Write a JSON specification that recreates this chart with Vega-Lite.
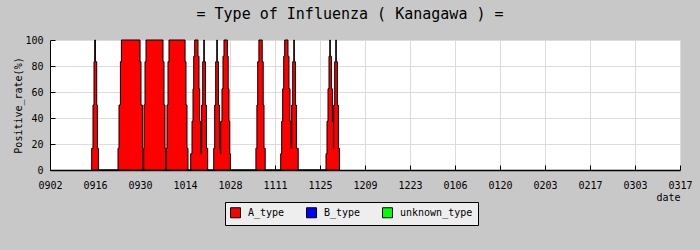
{
  "$schema": "https://vega.github.io/schema/vega-lite/v6.json",
  "width": 630,
  "height": 130,
  "autosize": "none",
  "padding": {"left": 50, "top": 40, "right": 20, "bottom": 80},
  "background": "#c8c8c8",
  "title": {"text": "= Type of Influenza ( Kanagawa ) =", "font": "DejaVu Sans Mono", "fontSize": 15, "fontWeight": "normal", "color": "black", "anchor": "middle", "dx": -15, "offset": 13},
  "config": {"view": {"fill": "white", "stroke": null}},
  "data": {"values": [
    {"day": 12.97, "rate": 16.7, "type": "A_type"},
    {"day": 13.38, "rate": 50, "type": "A_type"},
    {"day": 13.69, "rate": 83.3, "type": "A_type"},
    {"day": 13.91, "rate": 100, "type": "A_type"},
    {"day": 14.12, "rate": 83.3, "type": "A_type"},
    {"day": 14.53, "rate": 50, "type": "A_type"},
    {"day": 14.75, "rate": 16.7, "type": "A_type"},
    {"day": 15.06, "rate": 0, "type": "A_type"},
    {"day": 21.16, "rate": 16.7, "type": "A_type"},
    {"day": 21.47, "rate": 50, "type": "A_type"},
    {"day": 21.90, "rate": 83.3, "type": "A_type"},
    {"day": 22.21, "rate": 100, "type": "A_type"},
    {"day": 28.00, "rate": 83.3, "type": "A_type"},
    {"day": 28.31, "rate": 50, "type": "A_type"},
    {"day": 28.75, "rate": 16.7, "type": "A_type"},
    {"day": 28.93, "rate": 0, "type": "A_type"},
    {"day": 29.15, "rate": 16.7, "type": "A_type"},
    {"day": 29.24, "rate": 50, "type": "A_type"},
    {"day": 29.56, "rate": 83.3, "type": "A_type"},
    {"day": 29.87, "rate": 100, "type": "A_type"},
    {"day": 35.16, "rate": 83.3, "type": "A_type"},
    {"day": 35.47, "rate": 50, "type": "A_type"},
    {"day": 35.78, "rate": 16.7, "type": "A_type"},
    {"day": 36.00, "rate": 0, "type": "A_type"},
    {"day": 36.18, "rate": 16.7, "type": "A_type"},
    {"day": 36.40, "rate": 50, "type": "A_type"},
    {"day": 36.71, "rate": 83.3, "type": "A_type"},
    {"day": 37.02, "rate": 100, "type": "A_type"},
    {"day": 42.00, "rate": 83.3, "type": "A_type"},
    {"day": 42.31, "rate": 50, "type": "A_type"},
    {"day": 42.62, "rate": 16.7, "type": "A_type"},
    {"day": 42.93, "rate": 0, "type": "A_type"},
    {"day": 43.77, "rate": 12.5, "type": "A_type"},
    {"day": 44.18, "rate": 37.5, "type": "A_type"},
    {"day": 44.49, "rate": 62.5, "type": "A_type"},
    {"day": 44.71, "rate": 87.5, "type": "A_type"},
    {"day": 45.02, "rate": 100, "type": "A_type"},
    {"day": 46.04, "rate": 87.5, "type": "A_type"},
    {"day": 46.36, "rate": 62.5, "type": "A_type"},
    {"day": 46.57, "rate": 37.5, "type": "A_type"},
    {"day": 46.88, "rate": 12.5, "type": "A_type"},
    {"day": 46.98, "rate": 16.7, "type": "A_type"},
    {"day": 47.19, "rate": 50, "type": "A_type"},
    {"day": 47.51, "rate": 83.3, "type": "A_type"},
    {"day": 47.85, "rate": 100, "type": "A_type"},
    {"day": 48.00, "rate": 83.3, "type": "A_type"},
    {"day": 48.35, "rate": 50, "type": "A_type"},
    {"day": 48.66, "rate": 16.7, "type": "A_type"},
    {"day": 49.06, "rate": 0, "type": "A_type"},
    {"day": 50.93, "rate": 16.7, "type": "A_type"},
    {"day": 51.24, "rate": 50, "type": "A_type"},
    {"day": 51.55, "rate": 83.3, "type": "A_type"},
    {"day": 51.89, "rate": 100, "type": "A_type"},
    {"day": 52.05, "rate": 83.3, "type": "A_type"},
    {"day": 52.39, "rate": 50, "type": "A_type"},
    {"day": 52.71, "rate": 16.7, "type": "A_type"},
    {"day": 53.01, "rate": 12.5, "type": "A_type"},
    {"day": 53.11, "rate": 37.5, "type": "A_type"},
    {"day": 53.51, "rate": 62.5, "type": "A_type"},
    {"day": 53.82, "rate": 87.5, "type": "A_type"},
    {"day": 54.13, "rate": 100, "type": "A_type"},
    {"day": 55.19, "rate": 87.5, "type": "A_type"},
    {"day": 55.44, "rate": 62.5, "type": "A_type"},
    {"day": 55.69, "rate": 37.5, "type": "A_type"},
    {"day": 55.91, "rate": 12.5, "type": "A_type"},
    {"day": 56.12, "rate": 0, "type": "A_type"},
    {"day": 64.06, "rate": 16.7, "type": "A_type"},
    {"day": 64.37, "rate": 50, "type": "A_type"},
    {"day": 64.62, "rate": 83.3, "type": "A_type"},
    {"day": 64.99, "rate": 100, "type": "A_type"},
    {"day": 66.02, "rate": 83.3, "type": "A_type"},
    {"day": 66.33, "rate": 50, "type": "A_type"},
    {"day": 66.58, "rate": 16.7, "type": "A_type"},
    {"day": 66.95, "rate": 0, "type": "A_type"},
    {"day": 71.77, "rate": 12.5, "type": "A_type"},
    {"day": 72.08, "rate": 37.5, "type": "A_type"},
    {"day": 72.39, "rate": 62.5, "type": "A_type"},
    {"day": 72.71, "rate": 87.5, "type": "A_type"},
    {"day": 73.02, "rate": 100, "type": "A_type"},
    {"day": 74.04, "rate": 87.5, "type": "A_type"},
    {"day": 74.35, "rate": 62.5, "type": "A_type"},
    {"day": 74.67, "rate": 37.5, "type": "A_type"},
    {"day": 74.98, "rate": 16.7, "type": "A_type"},
    {"day": 75.20, "rate": 50, "type": "A_type"},
    {"day": 75.51, "rate": 83.3, "type": "A_type"},
    {"day": 75.85, "rate": 100, "type": "A_type"},
    {"day": 76.01, "rate": 83.3, "type": "A_type"},
    {"day": 76.35, "rate": 50, "type": "A_type"},
    {"day": 76.66, "rate": 16.7, "type": "A_type"},
    {"day": 77.22, "rate": 0, "type": "A_type"},
    {"day": 85.87, "rate": 12.5, "type": "A_type"},
    {"day": 86.18, "rate": 37.5, "type": "A_type"},
    {"day": 86.49, "rate": 62.5, "type": "A_type"},
    {"day": 86.80, "rate": 87.5, "type": "A_type"},
    {"day": 87.05, "rate": 100, "type": "A_type"},
    {"day": 87.21, "rate": 87.5, "type": "A_type"},
    {"day": 87.55, "rate": 62.5, "type": "A_type"},
    {"day": 87.86, "rate": 37.5, "type": "A_type"},
    {"day": 88.17, "rate": 16.7, "type": "A_type"},
    {"day": 88.26, "rate": 50, "type": "A_type"},
    {"day": 88.57, "rate": 83.3, "type": "A_type"},
    {"day": 88.91, "rate": 100, "type": "A_type"},
    {"day": 89.07, "rate": 83.3, "type": "A_type"},
    {"day": 89.41, "rate": 50, "type": "A_type"},
    {"day": 89.72, "rate": 16.7, "type": "A_type"},
    {"day": 90.04, "rate": 0, "type": "A_type"}
  ]},
  "mark": {"type": "area", "interpolate": "step-after", "stroke": "black", "strokeWidth": 1, "fillOpacity": 1},
  "encoding": {
    "x": {
      "field": "day", "type": "quantitative",
      "scale": {"domain": [0, 196], "nice": false, "zero": false},
      "axis": {
        "values": [0, 14, 28, 42, 56, 70, 84, 98, 112, 126, 140, 154, 168, 182, 196],
        "labelExpr": "timeFormat(datetime(2009, 8, 2 + datum.value), '%m%d')",
        "grid": true, "gridColor": "#dcdcdc", "gridOpacity": 1,
        "domainColor": "black", "domainWidth": 1.5,
        "tickColor": "black", "tickSize": -5,
        "labelPadding": 15, "labelFont": "DejaVu Sans Mono", "labelFontSize": 10, "labelColor": "black",
        "labelFlush": false, "labelOverlap": false,
        "title": "date", "titleFont": "DejaVu Sans Mono", "titleFontSize": 10, "titleFontWeight": "normal", "titleColor": "black",
        "titleAnchor": "end", "titleAlign": "right", "titleX": 630, "titleY": 22, "titleBaseline": "top"
      }
    },
    "y": {
      "field": "rate", "type": "quantitative", "stack": null,
      "scale": {"domain": [0, 100], "nice": false},
      "axis": {
        "values": [0, 20, 40, 60, 80, 100],
        "grid": true, "gridColor": "#dcdcdc", "gridOpacity": 1,
        "domainColor": "black", "domainWidth": 1,
        "tickColor": "black", "tickSize": -5,
        "labelPadding": 12, "labelFont": "DejaVu Sans Mono", "labelFontSize": 10, "labelColor": "black",
        "title": "Positive_rate(%)", "titleFont": "DejaVu Sans Mono", "titleFontSize": 10, "titleFontWeight": "normal", "titleColor": "black",
        "titlePadding": 1
      }
    },
    "color": {
      "field": "type", "type": "nominal",
      "scale": {"domain": ["A_type", "B_type", "unknown_type"], "range": ["#ff0000", "#0000ff", "#00ff00"]},
      "legend": {
        "orient": "none", "legendX": 175, "legendY": 162, "direction": "horizontal", "columns": 3,
        "title": null, "symbolType": "square", "symbolSize": 100, "symbolStrokeColor": "black", "symbolStrokeWidth": 1, "symbolOpacity": 1,
        "labelFont": "DejaVu Sans Mono", "labelFontSize": 10, "labelColor": "black", "labelOffset": 7,
        "fillColor": "#eeeeee", "strokeColor": "black", "padding": 5, "columnPadding": 19
      }
    }
  }
}
